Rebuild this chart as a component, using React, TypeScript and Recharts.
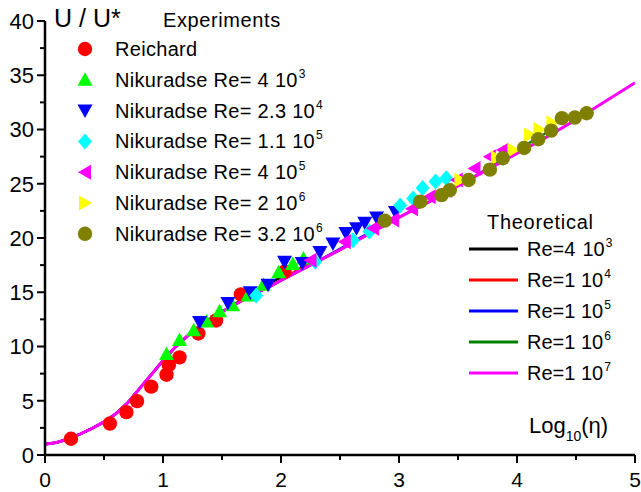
import React from "react";
import { ComposedChart, Line, Scatter, XAxis, YAxis } from "recharts";

const FONT = "'Liberation Sans', Arial, sans-serif";

// theoretical curves (log10 eta, U/U*)
const thX = [0, 0.1, 0.2, 0.3, 0.4, 0.5, 0.6, 0.7, 0.8, 0.9, 1.0, 1.1, 1.2, 1.3, 1.4, 1.5, 1.6, 1.7, 1.8, 1.9, 2.0, 2.25, 2.5, 2.75, 3.0, 3.25, 3.5, 3.75, 4.0, 4.25, 4.5, 4.75, 5.0];
const thRe1e7 = [1.0, 1.15, 1.5, 1.95, 2.45, 3.05, 3.8, 4.8, 6.1, 7.4, 8.7, 9.9, 10.9, 11.8, 12.5, 13.2, 13.8, 14.4, 15.0, 15.5, 16.1, 17.5, 18.9, 20.4, 21.9, 23.3, 24.8, 26.3, 27.8, 29.3, 30.9, 32.6, 34.3];
const thRe1e6 = [1.0, 1.15, 1.5, 1.95, 2.45, 3.05, 3.8, 4.8, 6.1, 7.4, 8.7, 9.9, 10.9, 11.8, 12.5, 13.2, 13.8, 14.4, 15.0, 15.5, 16.1, 17.5, 18.9, 20.4, 21.9, 23.3, 24.8, 26.4, 28.1, 29.7];
const thRe1e5 = [1.0, 1.15, 1.5, 1.95, 2.45, 3.05, 3.8, 4.8, 6.1, 7.4, 8.7, 9.9, 10.9, 11.8, 12.5, 13.2, 13.8, 14.4, 15.0, 15.5, 16.1, 17.5, 19.0, 20.5, 22.1];
const thRe1e4 = [1.0, 1.15, 1.5, 1.95, 2.45, 3.05, 3.8, 4.8, 6.1, 7.4, 8.7, 9.9, 10.9, 11.8, 12.5, 13.2, 13.8, 14.4, 15.0, 15.5, 16.1, 17.8];
const thRe4e3 = [1.0, 1.15, 1.5, 1.95, 2.45, 3.05, 3.8, 4.8, 6.1, 7.4, 8.7, 9.9, 10.9, 11.8, 12.5, 13.2, 13.85, 14.55, 15.2, 15.8, 16.4];

// experiments
const reichardX = [0.22, 0.55, 0.69, 0.78, 0.9, 1.03, 1.05, 1.14, 1.3, 1.45, 1.66, 2.03];
const reichardY = [1.5, 2.9, 3.95, 4.97, 6.3, 7.4, 8.3, 9.0, 11.2, 12.4, 14.8, 16.9];
const nik4e3X = [1.03, 1.14, 1.26, 1.37, 1.48, 1.59, 1.72, 1.85, 1.98, 2.1, 2.19];
const nik4e3Y = [9.3, 10.6, 11.5, 12.3, 13.25, 13.8, 14.7, 15.7, 16.85, 17.6, 18.1];
const nik23e4X = [1.31, 1.55, 1.74, 1.89, 2.03, 2.18, 2.33, 2.44, 2.55, 2.64, 2.71, 2.81, 2.97];
const nik23e4Y = [12.25, 14.0, 15.0, 15.7, 17.8, 17.7, 18.7, 19.5, 20.45, 20.9, 21.4, 21.9, 22.4];
const nik11e5X = [1.79, 2.29, 2.61, 2.75, 3.01, 3.12, 3.2, 3.31, 3.4];
const nik11e5Y = [14.7, 17.8, 19.8, 20.6, 23.0, 23.65, 24.6, 25.2, 25.5];
const nik4e5X = [2.25, 2.54, 2.78, 2.95, 3.11, 3.26, 3.4, 3.49, 3.64, 3.77, 3.88];
const nik4e5Y = [17.95, 19.65, 20.9, 21.65, 22.7, 23.8, 24.4, 25.35, 26.4, 27.5, 28.1];
const nik2e6X = [3.52, 3.83, 3.97, 4.11, 4.19, 4.3];
const nik2e6Y = [25.35, 27.4, 28.1, 29.5, 30.0, 30.6];
const nik32e6X = [2.88, 3.18, 3.36, 3.43, 3.59, 3.77, 3.88, 4.06, 4.18, 4.29, 4.38, 4.49, 4.59];
const nik32e6Y = [21.6, 23.35, 23.95, 24.4, 25.35, 26.3, 27.35, 28.3, 29.1, 29.9, 31.05, 31.1, 31.5];

const xTicks = [0, 0.5, 1, 1.5, 2, 2.5, 3, 3.5, 4, 4.5, 5];
const yTicks = [0, 2.5, 5, 7.5, 10, 12.5, 15, 17.5, 20, 22.5, 25, 27.5, 30, 32.5, 35, 37.5, 40];

const zip = (xs: number[], ys: number[]) => ys.map((y, i) => ({ x: xs[i], y }));

type Kind = "circle" | "up" | "down" | "diamond" | "left" | "right";

const experiments: { name: string; exp?: string; kind: Kind; color: string; data: { x: number; y: number }[] }[] = [
  { name: "Reichard", kind: "circle", color: "#FF0000", data: zip(reichardX, reichardY) },
  { name: "Nikuradse Re= 4 10", exp: "3", kind: "up", color: "#00FF00", data: zip(nik4e3X, nik4e3Y) },
  { name: "Nikuradse Re= 2.3 10", exp: "4", kind: "down", color: "#0000FF", data: zip(nik23e4X, nik23e4Y) },
  { name: "Nikuradse Re= 1.1 10", exp: "5", kind: "diamond", color: "#00FFFF", data: zip(nik11e5X, nik11e5Y) },
  { name: "Nikuradse Re= 4 10", exp: "5", kind: "left", color: "#FF00FF", data: zip(nik4e5X, nik4e5Y) },
  { name: "Nikuradse Re= 2 10", exp: "6", kind: "right", color: "#FFFF00", data: zip(nik2e6X, nik2e6Y) },
  { name: "Nikuradse Re= 3.2 10", exp: "6", kind: "circle", color: "#808000", data: zip(nik32e6X, nik32e6Y) },
];

const theory = [
  { mant: "4", exp: "3", color: "#000000", data: zip(thX, thRe4e3) },
  { mant: "1", exp: "4", color: "#FF0000", data: zip(thX, thRe1e4) },
  { mant: "1", exp: "5", color: "#0000FF", data: zip(thX, thRe1e5) },
  { mant: "1", exp: "6", color: "#008000", data: zip(thX, thRe1e6) },
  { mant: "1", exp: "7", color: "#FF00FF", data: zip(thX, thRe1e7) },
];

function Marker({ kind, cx, cy, color }: { kind: Kind; cx: number; cy: number; color: string }) {
  if (cx == null || cy == null) return null;
  switch (kind) {
    case "circle":
      return <circle cx={cx} cy={cy} r={7.2} fill={color} />;
    case "up":
      return <polygon points={`${cx},${cy - 7.5} ${cx + 7.5},${cy + 6} ${cx - 7.5},${cy + 6}`} fill={color} />;
    case "down":
      return <polygon points={`${cx - 7.5},${cy - 6} ${cx + 7.5},${cy - 6} ${cx},${cy + 7.5}`} fill={color} />;
    case "diamond":
      return <polygon points={`${cx},${cy - 8} ${cx + 7},${cy} ${cx},${cy + 8} ${cx - 7},${cy}`} fill={color} />;
    case "left":
      return <polygon points={`${cx - 7},${cy} ${cx + 6},${cy - 7.5} ${cx + 6},${cy + 7.5}`} fill={color} />;
    case "right":
      return <polygon points={`${cx + 7},${cy} ${cx - 6},${cy - 7.5} ${cx - 6},${cy + 7.5}`} fill={color} />;
  }
  return null;
}

const YTick = (props: any) => {
  const { x, y, payload } = props;
  const major = payload.value % 5 === 0;
  return (
    <g>
      <line x1={x - (major ? 8 : 5)} x2={x} y1={y} y2={y} stroke="#000" strokeWidth={2} />
      {major && (
        <text x={x - 11} y={y} dy="0.36em" textAnchor="end" fontSize={22} fontFamily={FONT} fill="#000">
          {payload.value}
        </text>
      )}
    </g>
  );
};

const XTick = (props: any) => {
  const { x, y, payload } = props;
  const major = Number.isInteger(payload.value);
  return (
    <g>
      <line x1={x} x2={x} y1={y} y2={y + (major ? 8 : 5)} stroke="#000" strokeWidth={2} />
      {major && (
        <text x={x} y={y + 31.5} textAnchor="middle" fontSize={21} fontFamily={FONT} fill="#000">
          {payload.value}
        </text>
      )}
    </g>
  );
};

export default function App() {
  return (
    <div style={{ position: "absolute", left: 0, top: 0, width: 641, height: 492, background: "#fff" }}>
      <ComposedChart width={641} height={492} margin={{ top: 21, right: 6, bottom: 0, left: 0 }}>
        <XAxis
          dataKey="x"
          type="number"
          domain={[0, 5]}
          ticks={xTicks}
          interval={0}
          tickSize={0}
          tickMargin={0}
          tick={<XTick />}
          axisLine={{ stroke: "#000", strokeWidth: 2.5 }}
          height={37}
          allowDataOverflow
        />
        <YAxis
          type="number"
          domain={[0, 40]}
          ticks={yTicks}
          interval={0}
          tickSize={0}
          tickMargin={0}
          tick={<YTick />}
          axisLine={{ stroke: "#000", strokeWidth: 2.5 }}
          width={45}
          allowDataOverflow
        />
        {theory.map((t, i) => (
          <Line
            key={"th" + i}
            data={t.data}
            dataKey="y"
            type="linear"
            stroke={t.color}
            strokeWidth={i === theory.length - 1 ? 3 : 2.5}
            dot={false}
            activeDot={false}
            isAnimationActive={false}
          />
        ))}
        {experiments.map((s, i) => (
          <Scatter
            key={"ex" + i}
            data={s.data}
            dataKey="y"
            fill={s.color}
            isAnimationActive={false}
            shape={(p: any) => <Marker kind={s.kind} cx={p.cx} cy={p.cy} color={s.color} />}
          />
        ))}
      </ComposedChart>

      <svg width={641} height={492} style={{ position: "absolute", left: 0, top: 0, pointerEvents: "none" }} fontFamily={FONT}>
        <text x={54} y={27} fontSize={25} fill="#000">U / U*</text>
        <text x={163} y={27} fontSize={20} letterSpacing={0.6} fill="#000">Experiments</text>
        {experiments.map((s, i) => {
          const cy = 49 + i * 30.8;
          return (
            <g key={"lg" + i}>
              <Marker kind={s.kind} cx={85} cy={cy} color={s.color} />
              <text x={115} y={cy + 7} fontSize={20} letterSpacing={0.3} fill="#000">
                {s.name}
                {s.exp && (
                  <tspan dx={1} dy={-9} fontSize={12}>{s.exp}</tspan>
                )}
              </text>
            </g>
          );
        })}

        <text x={487} y={229} fontSize={20} letterSpacing={0.7} fill="#000">Theoretical</text>
        {theory.map((t, i) => {
          const cy = 249 + i * 31;
          return (
            <g key={"tl" + i}>
              <line x1={469} x2={518} y1={cy} y2={cy} stroke={t.color} strokeWidth={3} />
              <text x={527} y={cy + 7} fontSize={20} fill="#000">
                {"Re=" + t.mant}
                <tspan dx={7}>10</tspan>
                <tspan dx={1} dy={-9} fontSize={12}>{t.exp}</tspan>
              </text>
            </g>
          );
        })}

        <text x={529} y={433} fontSize={22} fill="#000">
          Log
          <tspan dy={8} fontSize={14}>10</tspan>
          <tspan dy={-8}>(η)</tspan>
        </text>
      </svg>
    </div>
  );
}
